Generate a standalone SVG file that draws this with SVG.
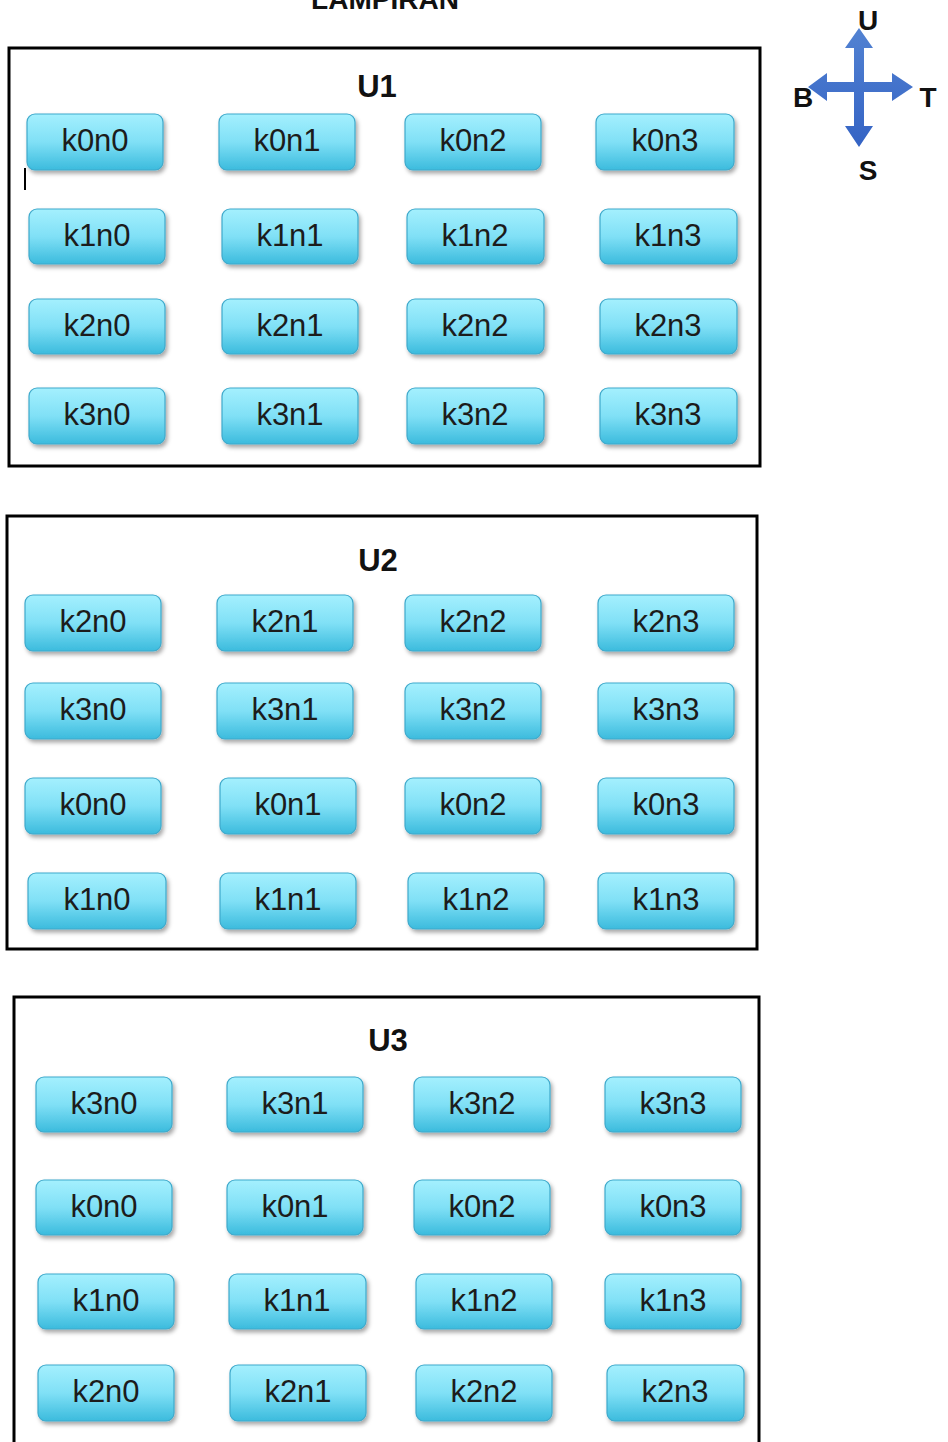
<svg xmlns="http://www.w3.org/2000/svg" width="948" height="1442" viewBox="0 0 948 1442">
<defs>
<linearGradient id="ng" x1="0" y1="0" x2="0" y2="1">
<stop offset="0" stop-color="#a4f0fe"/>
<stop offset="0.5" stop-color="#80e0f6"/>
<stop offset="1" stop-color="#3bbbdd"/>
</linearGradient>
<linearGradient id="ag" x1="0" y1="0" x2="0" y2="1">
<stop offset="0" stop-color="#5282d2"/>
<stop offset="1" stop-color="#3463c4"/>
</linearGradient>
<filter id="sh" x="-10%" y="-20%" width="125%" height="150%">
<feDropShadow dx="2" dy="3" stdDeviation="2" flood-color="#000" flood-opacity="0.35"/>
</filter>
</defs>
<style>
.box{fill:none;stroke:#000;stroke-width:3}
.n rect{fill:url(#ng);stroke:#3fa9cb;stroke-width:1.2;filter:url(#sh)}
.n text{font-family:"Liberation Sans",Arial,sans-serif;font-size:31px;fill:#1c1c1c;text-anchor:middle}
.t{font-family:"Liberation Sans",Arial,sans-serif;font-weight:bold;fill:#111;text-anchor:middle}
</style>
<rect width="948" height="1442" fill="#fff"/>
<text class="t" x="385" y="9" font-size="28">LAMPIRAN</text>

<g id="compass">
<path fill="url(#ag)" d="M859,28 L873,48 L864,48 L864,82 L892,82 L892,73 L913,87 L892,101 L892,92 L864,92 L864,126 L873,126 L859,147 L845,126 L854,126 L854,92 L827,92 L827,101 L808,87 L827,73 L827,82 L854,82 L854,48 L845,48 Z"/>
<text class="t" x="868" y="30" font-size="28">U</text>
<text class="t" x="803" y="107" font-size="28">B</text>
<text class="t" x="928" y="107" font-size="28">T</text>
<text class="t" x="868" y="180" font-size="28">S</text>
</g>

<g id="connectors"></g>

<line x1="25" y1="168" x2="25" y2="190" stroke="#000" stroke-width="2"/>

<g id="U1">
<rect class="box" x="9" y="48" width="751" height="418"/>
<text class="t" x="377" y="97" font-size="31">U1</text>
<g class="n" id="u1-k0n0"><rect x="27" y="114" width="136" height="56" rx="8"/><text x="95" y="151">k0n0</text></g>
<g class="n" id="u1-k0n1"><rect x="219" y="114" width="136" height="56" rx="8"/><text x="287" y="151">k0n1</text></g>
<g class="n" id="u1-k0n2"><rect x="405" y="114" width="136" height="56" rx="8"/><text x="473" y="151">k0n2</text></g>
<g class="n" id="u1-k0n3"><rect x="596" y="114" width="138" height="56" rx="8"/><text x="665" y="151">k0n3</text></g>
<g class="n" id="u1-k1n0"><rect x="29" y="209" width="136" height="55" rx="8"/><text x="97" y="246">k1n0</text></g>
<g class="n" id="u1-k1n1"><rect x="222" y="209" width="136" height="55" rx="8"/><text x="290" y="246">k1n1</text></g>
<g class="n" id="u1-k1n2"><rect x="407" y="209" width="137" height="55" rx="8"/><text x="475" y="246">k1n2</text></g>
<g class="n" id="u1-k1n3"><rect x="600" y="209" width="137" height="55" rx="8"/><text x="668" y="246">k1n3</text></g>
<g class="n" id="u1-k2n0"><rect x="29" y="299" width="136" height="55" rx="8"/><text x="97" y="336">k2n0</text></g>
<g class="n" id="u1-k2n1"><rect x="222" y="299" width="136" height="55" rx="8"/><text x="290" y="336">k2n1</text></g>
<g class="n" id="u1-k2n2"><rect x="407" y="299" width="137" height="55" rx="8"/><text x="475" y="336">k2n2</text></g>
<g class="n" id="u1-k2n3"><rect x="600" y="299" width="137" height="55" rx="8"/><text x="668" y="336">k2n3</text></g>
<g class="n" id="u1-k3n0"><rect x="29" y="388" width="136" height="56" rx="8"/><text x="97" y="425">k3n0</text></g>
<g class="n" id="u1-k3n1"><rect x="222" y="388" width="136" height="56" rx="8"/><text x="290" y="425">k3n1</text></g>
<g class="n" id="u1-k3n2"><rect x="407" y="388" width="137" height="56" rx="8"/><text x="475" y="425">k3n2</text></g>
<g class="n" id="u1-k3n3"><rect x="600" y="388" width="137" height="56" rx="8"/><text x="668" y="425">k3n3</text></g>
</g>

<g id="U2">
<rect class="box" x="7" y="516" width="750" height="433"/>
<text class="t" x="378" y="571" font-size="31">U2</text>
<g class="n" id="u2-k2n0"><rect x="25" y="595" width="136" height="56" rx="8"/><text x="93" y="632">k2n0</text></g>
<g class="n" id="u2-k2n1"><rect x="217" y="595" width="136" height="56" rx="8"/><text x="285" y="632">k2n1</text></g>
<g class="n" id="u2-k2n2"><rect x="405" y="595" width="136" height="56" rx="8"/><text x="473" y="632">k2n2</text></g>
<g class="n" id="u2-k2n3"><rect x="598" y="595" width="136" height="56" rx="8"/><text x="666" y="632">k2n3</text></g>
<g class="n" id="u2-k3n0"><rect x="25" y="683" width="136" height="56" rx="8"/><text x="93" y="720">k3n0</text></g>
<g class="n" id="u2-k3n1"><rect x="217" y="683" width="136" height="56" rx="8"/><text x="285" y="720">k3n1</text></g>
<g class="n" id="u2-k3n2"><rect x="405" y="683" width="136" height="56" rx="8"/><text x="473" y="720">k3n2</text></g>
<g class="n" id="u2-k3n3"><rect x="598" y="683" width="136" height="56" rx="8"/><text x="666" y="720">k3n3</text></g>
<g class="n" id="u2-k0n0"><rect x="25" y="778" width="136" height="56" rx="8"/><text x="93" y="815">k0n0</text></g>
<g class="n" id="u2-k0n1"><rect x="220" y="778" width="136" height="56" rx="8"/><text x="288" y="815">k0n1</text></g>
<g class="n" id="u2-k0n2"><rect x="405" y="778" width="136" height="56" rx="8"/><text x="473" y="815">k0n2</text></g>
<g class="n" id="u2-k0n3"><rect x="598" y="778" width="136" height="56" rx="8"/><text x="666" y="815">k0n3</text></g>
<g class="n" id="u2-k1n0"><rect x="28" y="873" width="138" height="56" rx="8"/><text x="97" y="910">k1n0</text></g>
<g class="n" id="u2-k1n1"><rect x="220" y="873" width="136" height="56" rx="8"/><text x="288" y="910">k1n1</text></g>
<g class="n" id="u2-k1n2"><rect x="408" y="873" width="136" height="56" rx="8"/><text x="476" y="910">k1n2</text></g>
<g class="n" id="u2-k1n3"><rect x="598" y="873" width="136" height="56" rx="8"/><text x="666" y="910">k1n3</text></g>
</g>

<g id="U3">
<rect class="box" x="14" y="997" width="745" height="460"/>
<text class="t" x="388" y="1051" font-size="31">U3</text>
<g class="n" id="u3-k3n0"><rect x="36" y="1077" width="136" height="55" rx="8"/><text x="104" y="1114">k3n0</text></g>
<g class="n" id="u3-k3n1"><rect x="227" y="1077" width="136" height="55" rx="8"/><text x="295" y="1114">k3n1</text></g>
<g class="n" id="u3-k3n2"><rect x="414" y="1077" width="136" height="55" rx="8"/><text x="482" y="1114">k3n2</text></g>
<g class="n" id="u3-k3n3"><rect x="605" y="1077" width="136" height="55" rx="8"/><text x="673" y="1114">k3n3</text></g>
<g class="n" id="u3-k0n0"><rect x="36" y="1180" width="136" height="55" rx="8"/><text x="104" y="1217">k0n0</text></g>
<g class="n" id="u3-k0n1"><rect x="227" y="1180" width="136" height="55" rx="8"/><text x="295" y="1217">k0n1</text></g>
<g class="n" id="u3-k0n2"><rect x="414" y="1180" width="136" height="55" rx="8"/><text x="482" y="1217">k0n2</text></g>
<g class="n" id="u3-k0n3"><rect x="605" y="1180" width="136" height="55" rx="8"/><text x="673" y="1217">k0n3</text></g>
<g class="n" id="u3-k1n0"><rect x="38" y="1274" width="136" height="55" rx="8"/><text x="106" y="1311">k1n0</text></g>
<g class="n" id="u3-k1n1"><rect x="229" y="1274" width="137" height="55" rx="8"/><text x="297" y="1311">k1n1</text></g>
<g class="n" id="u3-k1n2"><rect x="416" y="1274" width="136" height="55" rx="8"/><text x="484" y="1311">k1n2</text></g>
<g class="n" id="u3-k1n3"><rect x="605" y="1274" width="136" height="55" rx="8"/><text x="673" y="1311">k1n3</text></g>
<g class="n" id="u3-k2n0"><rect x="38" y="1365" width="136" height="56" rx="8"/><text x="106" y="1402">k2n0</text></g>
<g class="n" id="u3-k2n1"><rect x="230" y="1365" width="136" height="56" rx="8"/><text x="298" y="1402">k2n1</text></g>
<g class="n" id="u3-k2n2"><rect x="416" y="1365" width="136" height="56" rx="8"/><text x="484" y="1402">k2n2</text></g>
<g class="n" id="u3-k2n3"><rect x="607" y="1365" width="137" height="56" rx="8"/><text x="675" y="1402">k2n3</text></g>
</g>
</svg>
